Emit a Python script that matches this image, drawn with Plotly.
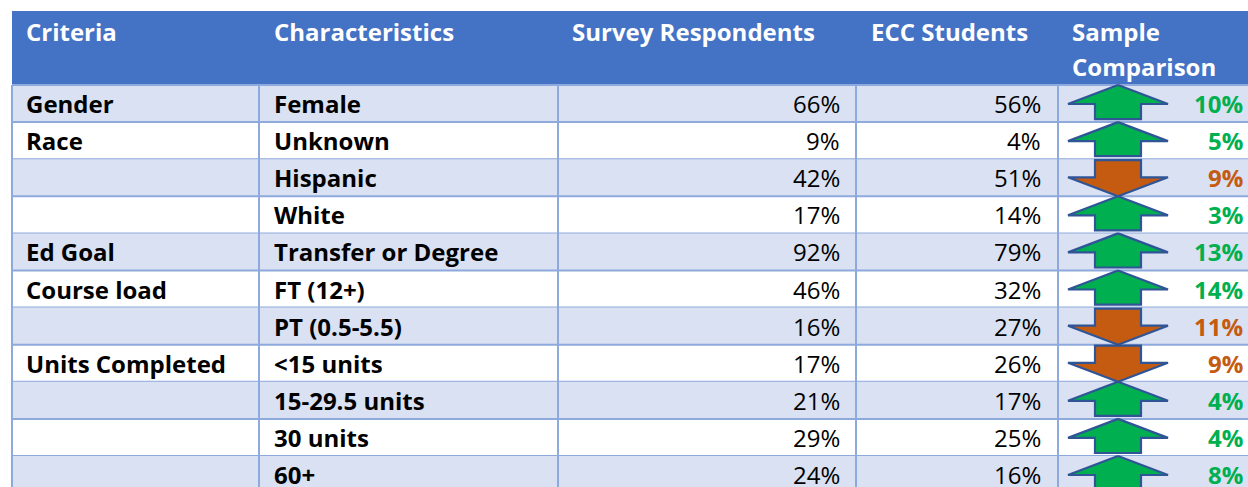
import plotly.graph_objects as go

# ---- table data
headers = [["Criteria"], ["Characteristics"], ["Survey Respondents"], ["ECC Students"],
           ["Sample", "Comparison"]]
criteria = ["Gender", "Race", "", "", "Ed Goal", "Course load", "", "Units Completed", "", "", ""]
characteristics = ["Female", "Unknown", "Hispanic", "White", "Transfer or Degree", "FT (12+)",
                   "PT (0.5-5.5)", "<15 units", "15-29.5 units", "30 units", "60+"]
survey = [66, 9, 42, 17, 92, 46, 16, 17, 21, 29, 24]
ecc = [56, 4, 51, 14, 79, 32, 27, 26, 17, 25, 16]

W, H = 1248, 487
col_x = [12, 259, 558, 856, 1058, 1300]   # column edges
top, head_h, row_h = 11, 74, 37.1
HEAD = "#4472C4"
BAND = "#D9E1F2"
LINE = "#8EA9DB"
GREEN = "#00B050"
ORANGE = "#C55A11"
FONT = "Open Sans"
FS = 24

fig = go.Figure()
shapes = []
ann = []

# header
shapes.append(dict(type="rect", x0=col_x[0], x1=col_x[-1], y0=top, y1=top + head_h,
                   fillcolor=HEAD, line_width=0, layer="below"))
hx = [24, 272, 570, 869, 1070]
for i, lines in enumerate(headers):
    for j, h in enumerate(lines):
        ann.append(dict(x=hx[i], y=31 + j * 35, text="<b>" + h + "</b>", xanchor="left",
                        yanchor="middle", showarrow=False,
                        font=dict(color="white", size=FS, family=FONT)))

y0 = top + head_h
for r in range(len(characteristics)):
    t = y0 + r * row_h
    b = t + row_h
    c = (t + b) / 2
    if r % 2 == 0:
        shapes.append(dict(type="rect", x0=col_x[0], x1=col_x[-1], y0=t, y1=b,
                           fillcolor=BAND, line_width=0, layer="below"))
    shapes.append(dict(type="line", x0=col_x[0], x1=col_x[-1], y0=b, y1=b,
                       line=dict(color=LINE, width=2), layer="below"))
    d = survey[r] - ecc[r]
    ann.append(dict(x=24, y=c, text="<b>" + criteria[r] + "</b>", xanchor="left", yanchor="middle",
                    showarrow=False, font=dict(color="black", size=FS, family=FONT)))
    ann.append(dict(x=272, y=c, text="<b>" + characteristics[r] + "</b>", xanchor="left",
                    yanchor="middle", showarrow=False, font=dict(color="black", size=FS, family=FONT)))
    ann.append(dict(x=842, y=c, text=f"{survey[r]}%", xanchor="right", yanchor="middle",
                    showarrow=False, font=dict(color="black", size=FS, family=FONT)))
    ann.append(dict(x=1043, y=c, text=f"{ecc[r]}%", xanchor="right", yanchor="middle",
                    showarrow=False, font=dict(color="black", size=FS, family=FONT)))
    col = GREEN if d > 0 else ORANGE
    ann.append(dict(x=1245, y=c, text=f"<b>{abs(d)}%</b>", xanchor="right", yanchor="middle",
                    showarrow=False, font=dict(color=col, size=FS, family=FONT)))
    # arrow
    cx, hw, sw, hh = 1118, 50, 23, 19
    if d > 0:
        xs = [cx, cx + hw, cx + sw, cx + sw, cx - sw, cx - sw, cx - hw, cx]
        ys = [t, t + hh, t + hh, b - 3, b - 3, t + hh, t + hh, t]
    else:
        xs = [cx, cx + hw, cx + sw, cx + sw, cx - sw, cx - sw, cx - hw, cx]
        ys = [b, b - hh, b - hh, t + 1, t + 1, b - hh, b - hh, b]
    fig.add_trace(go.Scatter(x=xs, y=ys, mode="lines", fill="toself", fillcolor=col,
                             line=dict(color="#2F5597", width=2.2), hoverinfo="skip",
                             showlegend=False))

# vertical lines
bottom = y0 + len(characteristics) * row_h
for x in col_x[:-1]:
    shapes.append(dict(type="line", x0=x, x1=x, y0=y0, y1=bottom,
                       line=dict(color=LINE, width=2), layer="below"))
shapes.append(dict(type="line", x0=col_x[0], x1=col_x[-1], y0=y0, y1=y0,
                   line=dict(color=LINE, width=2), layer="below"))

fig.update_layout(
    width=W, height=H, margin=dict(l=0, r=0, t=0, b=0),
    paper_bgcolor="white", plot_bgcolor="white",
    xaxis=dict(range=[0, W], visible=False, fixedrange=True),
    yaxis=dict(range=[H, 0], visible=False, fixedrange=True),
    shapes=shapes, annotations=ann,
)
# drop the page's default body margin so the figure sits at the top-left corner
fig.write_html("out.html", config={"displayModeBar": False},
               post_script="document.body.style.margin='0';document.body.style.overflow='hidden';")
